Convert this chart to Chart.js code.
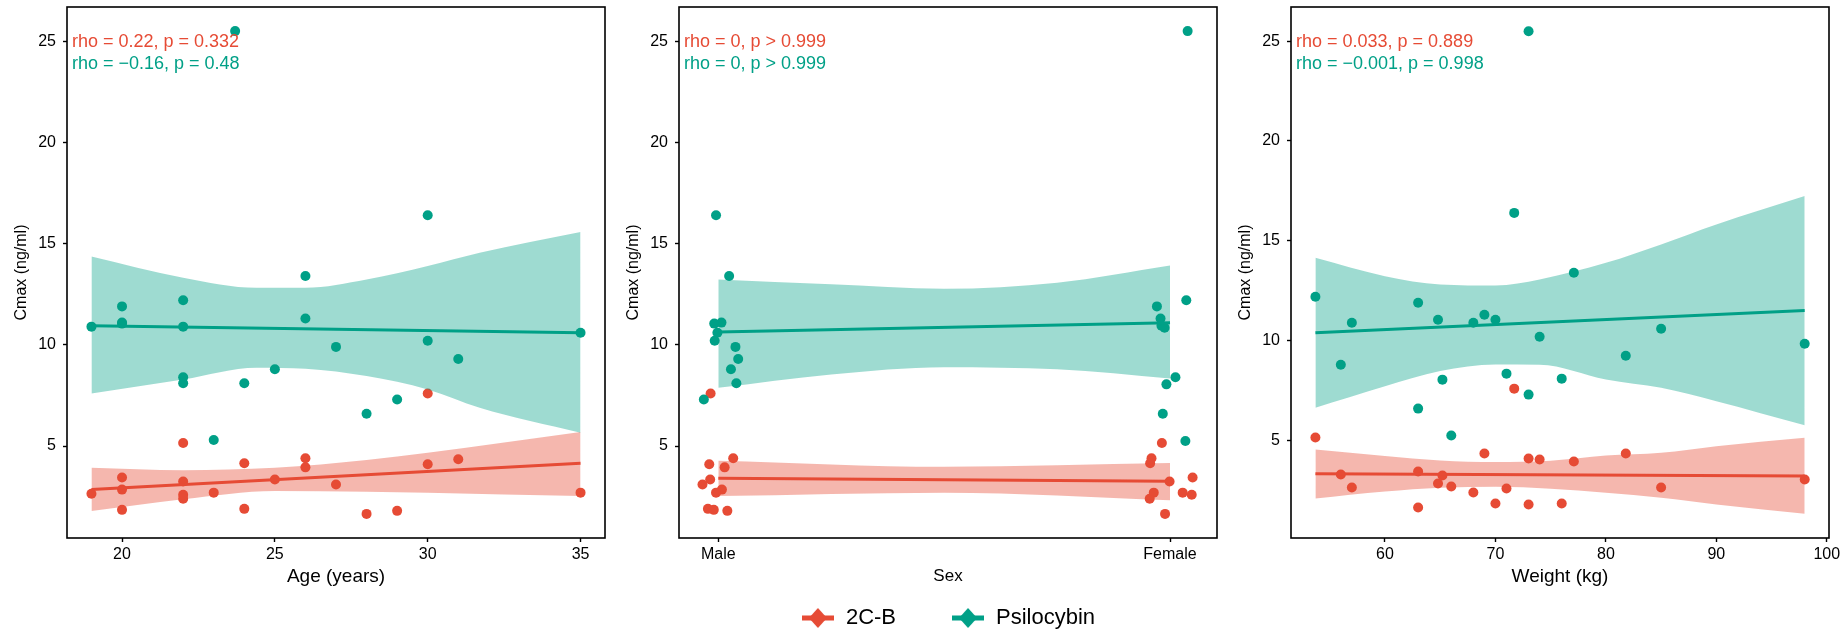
<!DOCTYPE html>
<html>
<head>
<meta charset="utf-8">
<title>Cmax by age, sex and weight</title>
<script src="https://cdn.jsdelivr.net/npm/chart.js@4.4.1/dist/chart.umd.min.js"></script>
<style>
  html, body { margin: 0; padding: 0; background: #fff; overflow: hidden; }
  #wrap { position: relative; width: 1848px; height: 631px; overflow: hidden; }
  canvas { position: absolute; }
</style>
</head>
<body>
<div id="wrap">
  <canvas id="panel-age" width="616" height="590" style="left:0;top:0"></canvas>
  <canvas id="panel-sex" width="616" height="590" style="left:612px;top:0"></canvas>
  <canvas id="panel-weight" width="616" height="590" style="left:1224px;top:0"></canvas>
  <canvas id="legend" width="1848" height="280" style="left:0;top:552px"></canvas>
</div>
<script>
// ---- data ----
const drugs = ['2C-B', 'Psilocybin'];
const yTicks = [5, 10, 15, 20, 25];

// Age panel
const ageTicks = [20, 25, 30, 35];
const ageCB = [19, 20, 20, 20, 22, 22, 22, 22, 23, 24, 24, 25, 26, 26, 27, 28, 29, 30, 30, 31, 35];
const cmaxAgeCB = [2.65, 3.45, 2.85, 1.85, 5.15, 3.25, 2.6, 2.4, 2.7, 4.15, 1.9, 3.35, 4.4, 3.95, 3.1, 1.65, 1.8, 7.6, 4.1, 4.35, 2.7];
const agePsi = [19, 20, 20, 20, 22, 22, 22, 22, 23, 23.7, 24, 25, 26, 26, 27, 28, 29, 30, 30, 31, 35];
const cmaxAgePsi = [10.9, 11.9, 11.05, 11.1, 12.2, 10.9, 8.4, 8.1, 5.3, 25.5, 8.1, 8.8, 11.3, 13.4, 9.9, 6.6, 7.3, 10.2, 16.4, 9.3, 10.6];
const ageFitX = [19, 35];
const ageFitCB = [2.86, 4.15];
const ageFitPsi = [10.95, 10.6];
const ageBandCBX = [19, 22, 25, 28, 30, 35];
const ageBandCBHi = [3.93, 3.81, 3.93, 4.31, 4.67, 5.69];
const ageBandCBLo = [1.79, 2.37, 2.78, 2.75, 2.7, 2.53];
const ageBandPsiX = [19, 22, 24.4, 26, 28, 30, 31.7, 35];
const ageBandPsiHi = [14.37, 13.32, 12.82, 12.82, 13.23, 13.9, 14.55, 15.57];
const ageBandPsiLo = [7.6, 8.29, 8.87, 8.82, 8.46, 7.8, 6.9, 5.66];

// Sex panel (points are jittered around Male = 1, Female = 2)
const sexLabels = ['Male', 'Female'];
const sexTicks = [1, 2];
const sexCB = [0.983, 1.033, 0.98, 1.014, 0.982, 0.965, 1.008, 0.995, 0.977, 0.99, 1.02,
  1.982, 1.959, 1.956, 1.999, 2.05, 1.964, 1.955, 2.028, 2.048, 1.989];
const cmaxSexCB = [7.6, 4.4, 4.1, 3.95, 3.35, 3.1, 2.85, 2.7, 1.9, 1.85, 1.8,
  5.15, 4.4, 4.15, 3.25, 3.45, 2.7, 2.4, 2.7, 2.6, 1.65];
const sexPsi = [0.995, 1.024, 0.991, 1.007, 0.998, 0.992, 1.038, 1.044, 1.028, 1.04, 0.968,
  2.039, 2.036, 1.971, 1.979, 1.981, 1.988, 2.012, 1.992, 1.984, 2.034];
const cmaxSexPsi = [16.4, 13.4, 11.05, 11.1, 10.6, 10.2, 9.9, 9.3, 8.8, 8.1, 7.3,
  25.5, 12.2, 11.9, 11.3, 10.95, 10.85, 8.4, 8.05, 6.6, 5.25];
const sexFitX = [1, 2];
const sexFitCB = [3.41, 3.26];
const sexFitPsi = [10.63, 11.09];
const sexBandCBX = [1, 1.5, 2];
const sexBandCBHi = [4.28, 3.98, 4.16];
const sexBandCBLo = [2.53, 2.7, 2.33];
const sexBandPsiX = [1, 1.25, 1.5, 1.75, 2];
const sexBandPsiHi = [13.23, 12.99, 12.77, 13.07, 13.92];
const sexBandPsiLo = [7.88, 8.54, 8.9, 8.79, 8.34];

// Weight panel
const weightTicks = [60, 70, 80, 90, 100];
const weight = [53.7, 56, 57, 63, 63, 64.8, 65.2, 66, 68, 69, 70, 71, 71.7, 73, 73, 74, 76, 77.1, 81.8, 85, 98];
const cmaxWeightCB = [5.15, 3.3, 2.65, 3.45, 1.65, 2.85, 3.25, 2.7, 2.4, 4.35, 1.85, 2.6, 7.6, 4.1, 1.8, 4.05, 1.85, 3.95, 4.35, 2.65, 3.05];
const cmaxWeightPsi = [12.2, 8.8, 10.9, 11.9, 6.6, 11.05, 8.05, 5.25, 10.9, 11.3, 11.05, 8.35, 16.4, 7.3, 25.5, 10.2, 8.1, 13.4, 9.25, 10.6, 9.85];
const weightFitX = [53.7, 98];
const weightFitCB = [3.34, 3.22];
const weightFitPsi = [10.4, 11.51];
const weightBandCBX = [53.7, 60, 65, 70, 75, 80, 85, 90, 98];
const weightBandCBHi = [4.55, 4.22, 4.0, 3.92, 3.99, 4.25, 4.39, 4.72, 5.14];
const weightBandCBLo = [2.1, 2.45, 2.64, 2.69, 2.59, 2.39, 2.14, 1.8, 1.33];
const weightBandPsiX = [53.7, 60, 65, 70, 74, 80, 85, 90, 98];
const weightBandPsiHi = [14.15, 13.23, 12.82, 12.77, 13.07, 13.9, 14.82, 15.82, 17.24];
const weightBandPsiLo = [6.64, 7.72, 8.48, 8.81, 8.8, 8.06, 7.64, 6.97, 5.76];

// correlation labels
const corrAge = ['rho = 0.22, p = 0.332', 'rho = \u22120.16, p = 0.48'];
const corrSex = ['rho = 0, p > 0.999', 'rho = 0, p > 0.999'];
const corrWeight = ['rho = 0.033, p = 0.889', 'rho = \u22120.001, p = 0.998'];

// ---- styling ----
const RED = '#E64B35';
const TEAL = '#00A087';
const RED_BAND = 'rgba(230, 75, 53, 0.4)';
const TEAL_BAND = 'rgba(0, 160, 135, 0.38)';
const FONT = '"Liberation Sans", Arial, Helvetica, sans-serif';

Chart.defaults.font.family = FONT;
Chart.defaults.color = '#000';
Chart.defaults.animation = false;

function pts(xs, ys) {
    return xs.map((x, i) => ({ x: x, y: ys[i] }));
}

const corrText = {
    id: 'corrText',
    afterDatasetsDraw(chart, args, opts) {
        const { ctx, chartArea } = chart;
        ctx.save();
        ctx.font = '18px ' + FONT;
        ctx.textBaseline = 'middle';
        ctx.textAlign = 'left';
        opts.lines.forEach((text, i) => {
            ctx.fillStyle = i === 0 ? RED : TEAL;
            ctx.fillText(text, chartArea.left + 5, chartArea.top + 35 + i * 22);
        });
        ctx.restore();
    }
};

const panelBox = {
    id: 'panelBox',
    afterDraw(chart) {
        const { ctx, chartArea } = chart;
        ctx.save();
        ctx.strokeStyle = '#000';
        ctx.lineWidth = 1.6;
        ctx.strokeRect(chartArea.left, chartArea.top, chartArea.right - chartArea.left, chartArea.bottom - chartArea.top);
        ctx.restore();
    }
};

function scatterSet(data, color, order) {
    return {
        data: data, order: order, showLine: false,
        pointRadius: 5, pointHoverRadius: 5, pointBorderWidth: 0,
        pointBackgroundColor: color, borderColor: color
    };
}

function edgeSet(data, order, fill, bg) {
    return {
        data: data, order: order, showLine: true, fill: fill,
        backgroundColor: bg, borderWidth: 0, borderColor: 'rgba(0,0,0,0)',
        pointRadius: 0, pointHoverRadius: 0, cubicInterpolationMode: 'monotone'
    };
}

function fitSet(data, color, order) {
    return {
        data: data, order: order, showLine: true, fill: false,
        borderColor: color, borderWidth: 3, pointRadius: 0, pointHoverRadius: 0
    };
}

function makePanel(id, p) {
    const datasets = [
        scatterSet(pts(p.cbX, p.cbY), RED, 10),
        scatterSet(pts(p.psiX, p.psiY), TEAL, 9),
        edgeSet(pts(p.cbBandX, p.cbLo), 8, false, RED_BAND),
        edgeSet(pts(p.cbBandX, p.cbHi), 7, { target: 2 }, RED_BAND),
        fitSet(pts(p.fitX, p.cbFit), RED, 6),
        edgeSet(pts(p.psiBandX, p.psiLo), 5, false, TEAL_BAND),
        edgeSet(pts(p.psiBandX, p.psiHi), 4, { target: 5 }, TEAL_BAND),
        fitSet(pts(p.fitX, p.psiFit), TEAL, 3)
    ];

    new Chart(document.getElementById(id), {
        type: 'line',
        data: { datasets: datasets },
        plugins: [corrText, panelBox],
        options: {
            responsive: false,
            events: [],
            layout: { padding: { top: 7, right: 11, left: 0, bottom: 0 } },
            plugins: {
                legend: { display: false },
                tooltip: { enabled: false },
                corrText: { lines: p.corr }
            },
            scales: {
                x: {
                    type: 'linear',
                    min: p.xMin,
                    max: p.xMax,
                    border: { display: false },
                    grid: {
                        drawOnChartArea: false, drawTicks: true, tickLength: 4,
                        color: '#000', tickColor: '#000', tickWidth: 1.4
                    },
                    ticks: {
                        color: '#000', padding: 3, maxRotation: 0, autoSkip: false,
                        font: { size: 16 },
                        callback: p.xLabel || (v => v)
                    },
                    title: {
                        display: true, text: p.xTitle, color: '#000',
                        font: { size: p.xTitleSize }, padding: { top: 0, bottom: p.xTitlePad }
                    },
                    afterBuildTicks: s => { s.ticks = p.xTicks.map(v => ({ value: v })); },
                    afterFit: s => {
                        s.height = 52;
                        s.paddingLeft = 0; s.paddingRight = 0;
                    }
                },
                y: {
                    type: 'linear',
                    min: p.yMin,
                    max: p.yMax,
                    border: { display: false },
                    grid: {
                        drawOnChartArea: false, drawTicks: true, tickLength: 4,
                        color: '#000', tickColor: '#000', tickWidth: 1.4
                    },
                    ticks: { color: '#000', padding: 7, font: { size: 16 } },
                    title: {
                        display: true, text: 'Cmax (ng/ml)', color: '#000',
                        font: { size: 16 }, padding: { top: 12, bottom: 0 }
                    },
                    afterBuildTicks: s => { s.ticks = yTicks.map(v => ({ value: v })); },
                    afterFit: s => {
                        s.width = 67;
                        s.paddingTop = 0; s.paddingBottom = 0;
                    }
                }
            }
        }
    });
}

function legendGlyph(color) {
    const c = document.createElement('canvas');
    c.width = 32;
    c.height = 22;
    const g = c.getContext('2d');
    g.fillStyle = color;
    g.fillRect(0, 8.5, 32, 5);
    g.beginPath();
    g.moveTo(16, 1);
    g.lineTo(25, 11);
    g.lineTo(16, 21);
    g.lineTo(7, 11);
    g.closePath();
    g.fill();
    return c;
}

document.addEventListener('DOMContentLoaded', function () {
    makePanel('panel-age', {
        cbX: ageCB, cbY: cmaxAgeCB, psiX: agePsi, psiY: cmaxAgePsi,
        fitX: ageFitX, cbFit: ageFitCB, psiFit: ageFitPsi,
        cbBandX: ageBandCBX, cbHi: ageBandCBHi, cbLo: ageBandCBLo,
        psiBandX: ageBandPsiX, psiHi: ageBandPsiHi, psiLo: ageBandPsiLo,
        xMin: 18.2, xMax: 35.8, yMin: 0.46, yMax: 26.69,
        xTicks: ageTicks, xTitle: 'Age (years)', xTitleSize: 19, xTitlePad: 2,
        corr: corrAge
    });

    makePanel('panel-sex', {
        cbX: sexCB, cbY: cmaxSexCB, psiX: sexPsi, psiY: cmaxSexPsi,
        fitX: sexFitX, cbFit: sexFitCB, psiFit: sexFitPsi,
        cbBandX: sexBandCBX, cbHi: sexBandCBHi, cbLo: sexBandCBLo,
        psiBandX: sexBandPsiX, psiHi: sexBandPsiHi, psiLo: sexBandPsiLo,
        xMin: 0.913, xMax: 2.104, yMin: 0.46, yMax: 26.69,
        xTicks: sexTicks, xLabel: v => sexLabels[Math.round(v) - 1],
        xTitle: 'Sex', xTitleSize: 17, xTitlePad: 3,
        corr: corrSex
    });

    makePanel('panel-weight', {
        cbX: weight, cbY: cmaxWeightCB, psiX: weight, psiY: cmaxWeightPsi,
        fitX: weightFitX, cbFit: weightFitCB, psiFit: weightFitPsi,
        cbBandX: weightBandCBX, cbHi: weightBandCBHi, cbLo: weightBandCBLo,
        psiBandX: weightBandPsiX, psiHi: weightBandPsiHi, psiLo: weightBandPsiLo,
        xMin: 51.49, xMax: 100.2, yMin: 0.12, yMax: 26.71,
        xTicks: weightTicks, xTitle: 'Weight (kg)', xTitleSize: 19, xTitlePad: 2,
        corr: corrWeight
    });

    new Chart(document.getElementById('legend'), {
        type: 'line',
        data: {
            datasets: [
                { label: drugs[0], data: [], pointStyle: legendGlyph(RED), borderColor: RED, backgroundColor: RED },
                { label: drugs[1], data: [], pointStyle: legendGlyph(TEAL), borderColor: TEAL, backgroundColor: TEAL }
            ]
        },
        options: {
            responsive: false,
            events: [],
            layout: { padding: { left: 48 } },
            scales: { x: { display: false }, y: { display: false } },
            plugins: {
                tooltip: { enabled: false },
                legend: {
                    position: 'top',
                    labels: {
                        usePointStyle: true, pointStyleWidth: 34, padding: 55,
                        color: '#000', font: { size: 22 }
                    }
                }
            }
        }
    });
});
</script>
</body>
</html>
